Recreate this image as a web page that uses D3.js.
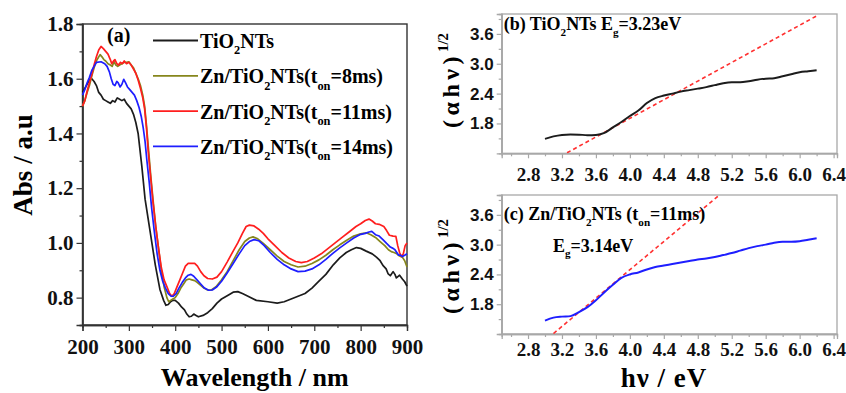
<!DOCTYPE html>
<html>
<head>
<meta charset="utf-8">
<script src="https://cdn.jsdelivr.net/npm/d3@7.9.0/dist/d3.min.js"></script>
<style>
  body { margin: 0; background: #fff; }
</style>
</head>
<body>
<svg id="chart" width="846" height="393"></svg>
<script>
// ---- panel (a) data: UV-vis absorbance ----
const wlTiO2 = [200,205,210,215,220,225,230,235,240,245,250,255,260,265,270,275,280,285,290,295,300,305,310,315,320,328,335,346,357,367,375,380,385,390,395,400,407,414,420,425,430,435,440,445,450,460,470,480,490,500,515,525,535,545,557,575,600,620,635,650,665,680,695,710,725,741,755,769,780,791,800,812,825,834,842,848,855,859,864,870,874,877,881,884,890,895,900];
const absTiO2 = [1.55,1.565,1.58,1.595,1.60,1.59,1.575,1.55,1.54,1.525,1.52,1.515,1.51,1.52,1.515,1.53,1.525,1.52,1.525,1.51,1.50,1.49,1.47,1.44,1.40,1.28,1.16,1.04,0.92,0.83,0.79,0.772,0.775,0.785,0.79,0.79,0.78,0.765,0.755,0.74,0.73,0.732,0.74,0.735,0.73,0.735,0.745,0.76,0.78,0.795,0.81,0.82,0.822,0.815,0.805,0.79,0.785,0.78,0.785,0.795,0.805,0.815,0.835,0.86,0.885,0.92,0.945,0.965,0.975,0.983,0.98,0.97,0.96,0.948,0.935,0.918,0.905,0.888,0.88,0.895,0.885,0.872,0.878,0.882,0.868,0.858,0.842];

const wl8ms = [200,205,210,215,220,225,230,235,238,242,246,250,255,260,264,268,272,276,280,285,290,295,300,305,310,315,320,325,330,334,338,342,347,352,358,364,370,376,382,386,390,395,400,406,412,418,424,430,436,442,448,455,462,470,478,488,500,512,525,538,550,560,568,578,590,605,620,635,650,665,680,695,710,725,740,755,770,785,800,812,822,832,842,852,860,866,872,878,884,890,895,900];
const abs8ms = [1.50,1.52,1.55,1.575,1.61,1.64,1.665,1.68,1.688,1.68,1.67,1.665,1.655,1.65,1.645,1.662,1.65,1.645,1.65,1.655,1.66,1.66,1.662,1.65,1.64,1.62,1.60,1.575,1.54,1.50,1.43,1.35,1.25,1.16,1.06,0.98,0.90,0.84,0.80,0.785,0.79,0.795,0.80,0.815,0.835,0.85,0.865,0.868,0.865,0.862,0.855,0.845,0.835,0.828,0.828,0.84,0.865,0.895,0.935,0.975,1.005,1.018,1.022,1.015,0.998,0.975,0.952,0.932,0.92,0.912,0.915,0.925,0.938,0.955,0.975,0.993,1.01,1.025,1.033,1.037,1.03,1.02,1.005,0.99,0.975,0.968,0.965,0.96,0.952,0.948,0.935,0.912];

const wl11ms = [200,205,210,215,220,225,230,235,240,245,250,255,260,263,267,270,274,278,282,286,290,295,300,305,310,315,320,325,330,334,338,342,347,352,358,364,370,376,382,388,393,398,404,410,416,422,428,435,442,448,455,462,470,480,490,500,512,525,535,545,553,560,570,580,590,600,615,630,645,660,672,685,700,715,730,745,760,775,790,800,810,818,825,832,840,850,856,862,870,876,880,884,888,892,896,900];
const abs11ms = [1.50,1.52,1.555,1.585,1.615,1.65,1.68,1.705,1.718,1.71,1.70,1.69,1.67,1.655,1.665,1.67,1.655,1.65,1.66,1.655,1.665,1.655,1.66,1.65,1.635,1.62,1.595,1.565,1.53,1.49,1.42,1.33,1.24,1.15,1.06,0.98,0.91,0.865,0.84,0.815,0.805,0.815,0.84,0.865,0.89,0.915,0.925,0.925,0.925,0.915,0.895,0.88,0.87,0.868,0.875,0.895,0.93,0.97,1.0,1.035,1.06,1.065,1.062,1.05,1.035,1.015,0.99,0.965,0.945,0.932,0.928,0.932,0.945,0.96,0.98,1.0,1.02,1.04,1.06,1.07,1.082,1.087,1.08,1.07,1.068,1.06,1.045,1.028,1.025,1.024,0.99,0.965,0.95,0.96,0.99,1.0];

const wl14ms = [200,205,210,215,220,225,230,240,248,253,258,262,266,270,274,277,281,285,289,293,297,302,307,312,317,322,327,331,335,339,344,349,355,361,367,373,379,385,391,396,402,408,415,422,428,434,440,447,455,463,472,480,490,500,512,525,538,550,560,570,580,592,605,620,635,650,665,680,695,710,725,740,755,770,785,798,810,818,824,832,840,848,856,864,870,874,878,882,886,890,895,900];
const abs14ms = [1.54,1.56,1.585,1.605,1.63,1.645,1.66,1.662,1.655,1.645,1.625,1.60,1.58,1.575,1.59,1.585,1.57,1.58,1.598,1.585,1.57,1.56,1.55,1.54,1.52,1.495,1.46,1.42,1.37,1.30,1.22,1.13,1.04,0.96,0.90,0.86,0.835,0.815,0.805,0.805,0.815,0.835,0.855,0.872,0.882,0.885,0.878,0.865,0.85,0.835,0.827,0.828,0.84,0.86,0.89,0.925,0.96,0.99,1.005,1.012,1.008,0.99,0.965,0.94,0.92,0.905,0.895,0.897,0.905,0.92,0.94,0.962,0.982,1.0,1.018,1.03,1.035,1.04,1.042,1.03,1.025,1.012,0.998,0.985,0.98,0.975,0.965,0.955,0.955,0.95,0.955,0.96];

const xTicksA = [200, 300, 400, 500, 600, 700, 800, 900];
const yTicksA = [0.8, 1.0, 1.2, 1.4, 1.6, 1.8];

// ---- panels (b), (c) data: Tauc plots ----
const hvB = [3.0,3.1,3.2,3.3,3.4,3.5,3.6,3.7,3.8,3.9,4.0,4.1,4.2,4.3,4.4,4.5,4.6,4.7,4.8,4.9,5.0,5.1,5.2,5.3,5.4,5.5,5.6,5.7,5.8,5.9,6.0,6.1,6.2];
const taucB = [1.49,1.54,1.57,1.58,1.575,1.565,1.57,1.61,1.72,1.83,1.95,2.06,2.21,2.31,2.36,2.40,2.44,2.47,2.50,2.53,2.57,2.61,2.63,2.63,2.65,2.68,2.70,2.71,2.75,2.79,2.83,2.85,2.87];
const fitB = [[3.26, 1.21], [6.22, 3.98]];

const hvC = [3.0,3.1,3.2,3.3,3.4,3.5,3.6,3.7,3.8,3.9,4.0,4.1,4.2,4.3,4.4,4.5,4.6,4.7,4.8,4.9,5.0,5.1,5.2,5.3,5.4,5.5,5.6,5.7,5.8,5.9,6.0,6.1,6.2];
const taucC = [1.47,1.53,1.55,1.56,1.64,1.74,1.88,2.04,2.19,2.33,2.40,2.44,2.50,2.55,2.58,2.61,2.64,2.67,2.70,2.72,2.75,2.79,2.83,2.88,2.93,2.97,3.00,3.04,3.06,3.06,3.07,3.10,3.13];
const fitC = [[3.10, 1.21], [5.07, 4.02]];

const xTicksT = [2.8, 3.2, 3.6, 4.0, 4.4, 4.8, 5.2, 5.6, 6.0, 6.4];
const yTicksT = [1.8, 2.4, 3.0, 3.6];

const seriesColors = ['#1c1c1c', '#86861c', '#ff1e1e', '#1e1eff'];

const SERIF = '"Liberation Serif"';
const SANS = '"Liberation Sans"';

const svg = d3.select('#chart');

// writes text with subscripts (1) / superscripts (-1)
function richText(textSel, parts, size) {
  let shift = 0;
  parts.forEach(([t, s, spacing]) => {
    const target = s === 1 ? size * 0.32 : s === -1 ? -size * 0.45 : 0;
    textSel.append('tspan')
      .attr('dy', target - shift)
      .attr('font-size', s ? size * 0.62 : size)
      .attr('letter-spacing', spacing || null)
      .text(t);
    shift = target;
  });
}

function styleAxis(g, color, fontSize, family) {
  g.attr('font-family', null);
  g.select('.domain').attr('stroke', color).attr('stroke-width', 1.3);
  g.selectAll('.tick line').attr('stroke', color).attr('stroke-width', 1.2);
  g.selectAll('.tick text').attr('font-size', fontSize).attr('fill', '#111')
    .style('font-family', family || SERIF);
}

// ---------------- panel (a) ----------------
const a = { left: 82.5, right: 407, top: 24, bottom: 325 };
const xA = d3.scaleLinear().domain([200, 900]).range([a.left, a.right]);
const yA = d3.scaleLinear().domain([0.7, 1.8]).range([a.bottom, a.top]);

svg.append('g').attr('transform', `translate(0,${a.bottom})`)
  .call(d3.axisBottom(xA).tickValues(d3.range(250, 900, 100)).tickSize(3).tickFormat(''))
  .call(g => styleAxis(g, '#333', 0));
svg.append('g').attr('transform', `translate(${a.left},0)`)
  .call(d3.axisLeft(yA).tickValues([0.7, 0.9, 1.1, 1.3, 1.5, 1.7]).tickSize(3).tickFormat(''))
  .call(g => styleAxis(g, '#333', 0));
svg.append('g').attr('transform', `translate(0,${a.bottom})`)
  .call(d3.axisBottom(xA).tickValues(xTicksA).tickSize(6).tickPadding(8).tickFormat(d3.format('d')))
  .call(g => styleAxis(g, '#333', 21));
svg.append('g').attr('transform', `translate(${a.left},0)`)
  .call(d3.axisLeft(yA).tickValues(yTicksA).tickSize(6).tickPadding(3).tickFormat(d3.format('.1f')))
  .call(g => styleAxis(g, '#333', 21));

svg.append('rect')
  .attr('x', a.left).attr('y', a.top)
  .attr('width', a.right - a.left).attr('height', a.bottom - a.top)
  .attr('fill', 'none').attr('stroke', '#333').attr('stroke-width', 1.4);

const lineA = d3.line().x(d => xA(d[0])).y(d => yA(d[1]));
const seriesA = [[wlTiO2, absTiO2], [wl8ms, abs8ms], [wl11ms, abs11ms], [wl14ms, abs14ms]];
seriesA.forEach(([xs, ys], i) => {
  svg.append('path')
    .datum(d3.zip(xs, ys))
    .attr('d', lineA)
    .attr('fill', 'none')
    .attr('stroke', seriesColors[i])
    .attr('stroke-width', 1.7)
    .attr('stroke-linejoin', 'round');
});

svg.append('text').attr('x', 107).attr('y', 42).attr('font-size', 20).text('(a)');

const legendParts = [
  [['TiO'], ['2', 1], ['NTs']],
  [['Zn/TiO'], ['2', 1], ['NTs(t'], ['on', 1], ['=8ms)']],
  [['Zn/TiO'], ['2', 1], ['NTs(t'], ['on', 1], ['=11ms)']],
  [['Zn/TiO'], ['2', 1], ['NTs(t'], ['on', 1], ['=14ms)']]
];
legendParts.forEach((parts, i) => {
  const y = 40.5 + i * 35.3;
  svg.append('line')
    .attr('x1', 153).attr('x2', 198).attr('y1', y).attr('y2', y)
    .attr('stroke', seriesColors[i]).attr('stroke-width', 1.8);
  const t = svg.append('text').attr('x', 200).attr('y', y + 7.5);
  richText(t, parts, 20);
});

svg.append('text')
  .attr('transform', 'translate(32,165) rotate(-90)')
  .attr('text-anchor', 'middle')
  .attr('font-size', 27)
  .text('Abs / a.u');
svg.append('text')
  .attr('x', (a.left + a.right) / 2 + 10).attr('y', 386)
  .attr('text-anchor', 'middle')
  .attr('font-size', 26)
  .text('Wavelength / nm');

// ---------------- panels (b) and (c) ----------------
function taucPanel(p, hv, vals, fit, color, titleParts, id) {
  const x = d3.scaleLinear().domain([2.49, 6.44]).range([p.left, p.right]);
  const y = d3.scaleLinear().domain([1.2, 4.0]).range([p.bottom, p.top]);
  const grey = '#a8a8a8';

  svg.append('g').attr('transform', `translate(0,${p.bottom})`)
    .call(d3.axisBottom(x).tickValues(d3.range(2.6, 6.45, 0.4)).tickSize(3).tickFormat(''))
    .call(g => styleAxis(g, grey, 0));
  svg.append('g').attr('transform', `translate(${p.left},0)`)
    .call(d3.axisLeft(y).tickValues([1.5, 2.1, 2.7, 3.3, 3.9]).tickSize(3).tickFormat(''))
    .call(g => styleAxis(g, grey, 0));
  svg.append('g').attr('transform', `translate(0,${p.bottom})`)
    .call(d3.axisBottom(x).tickValues(xTicksT).tickSize(5).tickPadding(p.xPad).tickFormat(d3.format('.1f')))
    .call(g => styleAxis(g, grey, 19));
  svg.append('g').attr('transform', `translate(${p.left},0)`)
    .call(d3.axisLeft(y).tickValues(yTicksT).tickSize(5).tickPadding(3).tickFormat(d3.format('.1f')))
    .call(g => styleAxis(g, grey, 17, SANS));

  svg.append('rect')
    .attr('x', p.left).attr('y', p.top)
    .attr('width', p.right - p.left).attr('height', p.bottom - p.top)
    .attr('fill', 'none').attr('stroke', grey).attr('stroke-width', 1.3);

  svg.append('clipPath').attr('id', id)
    .append('rect')
    .attr('x', p.left).attr('y', p.top)
    .attr('width', p.right - p.left).attr('height', p.bottom - p.top);

  const line = d3.line().x(d => x(d[0])).y(d => y(d[1])).curve(d3.curveMonotoneX);
  svg.append('path')
    .datum(fit)
    .attr('clip-path', `url(#${id})`)
    .attr('d', d3.line().x(d => x(d[0])).y(d => y(d[1])))
    .attr('fill', 'none').attr('stroke', '#ff3030')
    .attr('stroke-width', 1.6).attr('stroke-dasharray', '4,3');
  svg.append('path')
    .datum(d3.zip(hv, vals))
    .attr('d', line)
    .attr('fill', 'none').attr('stroke', color).attr('stroke-width', 2);

  const t = svg.append('text').attr('x', p.left + 2).attr('y', p.titleY);
  richText(t, titleParts, 18);

  const yl = svg.append('text')
    .attr('transform', `translate(459,${p.labelY}) rotate(-90)`)
    .attr('font-size', 24);
  richText(yl, [['(αhν)', 0, 4.5], ['1/2', -1]], 24);
}

taucPanel({ left: 501.7, right: 837, top: 14, bottom: 153.3, xPad: 9, titleY: 30, labelY: 128 },
  hvB, taucB, fitB, seriesColors[0],
  [['(b) TiO'], ['2', 1], ['NTs E'], ['g', 1], ['=3.23eV']], 'clipB');
taucPanel({ left: 501.7, right: 837, top: 195, bottom: 334, xPad: 4, titleY: 220, labelY: 314 },
  hvC, taucC, fitC, seriesColors[3],
  [['(c) Zn/TiO'], ['2', 1], ['NTs (t'], ['on', 1], ['=11ms)']], 'clipC');

const eg = svg.append('text').attr('x', 553).attr('y', 251.5);
richText(eg, [['E'], ['g', 1], ['=3.14eV']], 18);

svg.append('text')
  .attr('x', 664).attr('y', 387)
  .attr('text-anchor', 'middle')
  .attr('font-size', 27)
  .attr('letter-spacing', 1)
  .text('hν / eV');

// free texts in bold serif; axis number fonts were set above
svg.selectAll(':scope > text').style('font-family', SERIF);
svg.selectAll('text').attr('font-weight', 'bold');
</script>
</body>
</html>
